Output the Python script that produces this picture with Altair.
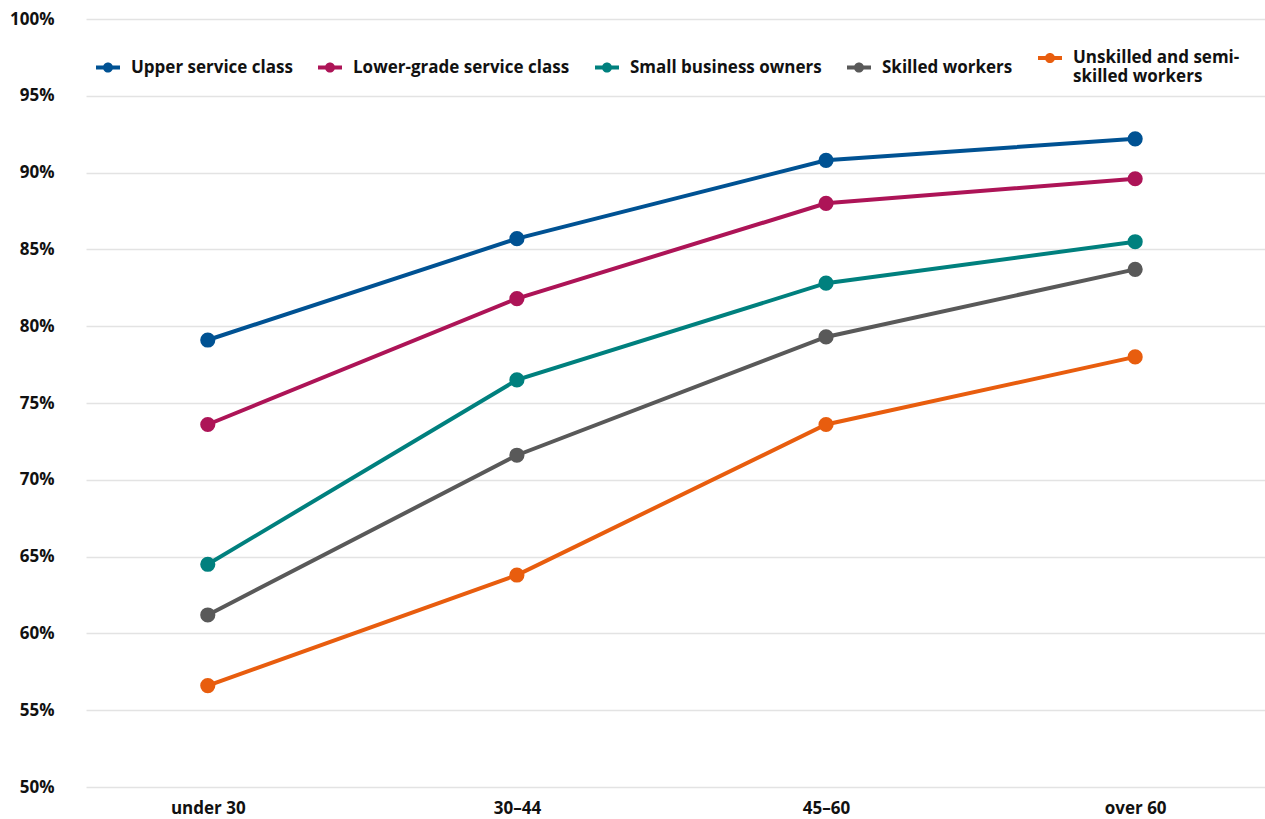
import altair as alt
import pandas as pd

# Age groups and share per occupational class (%)
age_groups = ["under 30", "30–44", "45–60", "over 60"]
classes = [
    "Upper service class",
    "Lower-grade service class",
    "Small business owners",
    "Skilled workers",
    "Unskilled and semi-skilled workers",
]
upper_service = [79.1, 85.7, 90.8, 92.2]
lower_service = [73.6, 81.8, 88.0, 89.6]
small_business = [64.5, 76.5, 82.8, 85.5]
skilled = [61.2, 71.6, 79.3, 83.7]
unskilled = [56.6, 63.8, 73.6, 78.0]
colors = ["#005293", "#ad1457", "#00807e", "#595959", "#e85d0e"]

series = [upper_service, lower_service, small_business, skilled, unskilled]
rows = []
for cls, vals in zip(classes, series):
    for age, v in zip(age_groups, vals):
        rows.append({"age": age, "cls": cls, "value": v / 100})
df = pd.DataFrame(rows)

FONT = "Open Sans"

# Legend symbol: a short line with a dot in the middle
line_dot = (
    "M-1,-0.17H1V0.17H-1Z "
    "M0.42,0A0.42,0.42 0 1,1 -0.42,0A0.42,0.42 0 1,1 0.42,0Z"
)

x_enc = alt.X(
    "age:N",
    sort=age_groups,
    scale=alt.Scale(type="point", padding=0.407, align=0.484),
    axis=alt.Axis(
        title=None,
        labelAngle=0,
        labelFontSize=17,
        labelFontWeight="bold",
        labelColor="#111111",
        labelFont=FONT,
        labelPadding=13,
        ticks=False,
        domain=False,
        domainColor="white",
        grid=False,
        gridColor="white",
    ),
)
y_enc = alt.Y(
    "value:Q",
    scale=alt.Scale(domain=[0.5, 1.0], nice=False, zero=False),
    axis=alt.Axis(
        title=None,
        format=".0%",
        values=[0.5, 0.55, 0.6, 0.65, 0.7, 0.75, 0.8, 0.85, 0.9, 0.95, 1.0],
        labelFontSize=17,
        labelFontWeight="bold",
        labelColor="#111111",
        labelFont=FONT,
        labelPadding=32,
        ticks=False,
        domain=False,
        domainColor="white",
        grid=True,
        gridColor="#e3e3e3",
        gridWidth=1.5,
    ),
)
color_enc = alt.Color(
    "cls:N",
    sort=classes,
    scale=alt.Scale(domain=classes, range=colors),
    legend=alt.Legend(
        title=None,
        orient="none",
        legendX=10,
        legendY=27,
        direction="horizontal",
        columns=5,
        columnPadding=25,
        symbolType=line_dot,
        symbolSize=576,
        symbolStrokeWidth=0,
        labelFontSize=17,
        labelFontWeight="bold",
        labelFont=FONT,
        labelColor="#111111",
        labelOffset=11,
        labelLimit=400,
        labelBaseline="middle",
        labelExpr="datum.label == 'Unskilled and semi-skilled workers' ? ['Unskilled and semi-', 'skilled workers'] : datum.label",
    ),
)

base = alt.Chart(df).encode(x=x_enc, y=y_enc, color=color_enc)
lines = base.mark_line(strokeWidth=4)
points = base.mark_circle(size=230, opacity=1)

chart = (
    alt.layer(lines, points)
    .properties(
        width=1179,
        height=768,
        background="white",
        autosize=alt.AutoSizeParams(type="none"),
        padding={"left": 86, "top": 19, "right": 0, "bottom": 32},
    )
    .configure_view(stroke="white", strokeWidth=0)
    .configure_axis(domain=False, ticks=False, domainColor="white")
)

chart.save("out.html", embed_options={"renderer": "svg", "actions": False})
